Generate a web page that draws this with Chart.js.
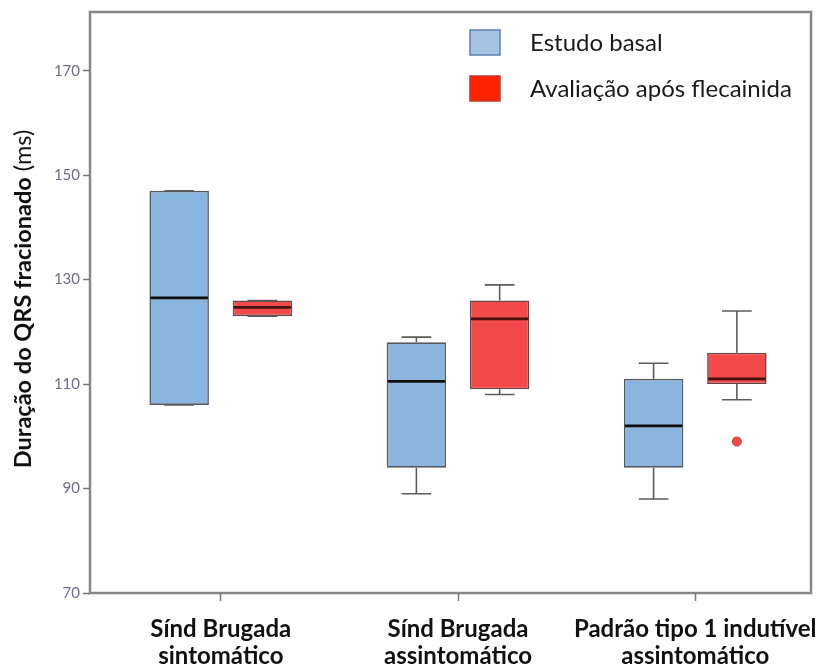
<!DOCTYPE html>
<html>
<head>
<meta charset="utf-8">
<script src="https://cdn.jsdelivr.net/npm/chart.js@4/dist/chart.umd.min.js"></script>
<style>
  html, body { margin: 0; padding: 0; background: #fff; }
  #wrap { width: 822px; height: 671px; }
</style>
</head>
<body>
<div id="wrap"><canvas id="c" width="822" height="671"></canvas></div>
<script>
// Groups along the x axis (two-line labels)
const groups = [
  ['Sínd Brugada', 'sintomático'],
  ['Sínd Brugada', 'assintomático'],
  ['Padrão tipo 1 indutível', 'assintomático']
];
const seriesNames = ['Estudo basal', 'Avaliação após flecainida'];

// Five-number summaries, one value per group (ms)
const basalMin    = [106, 89, 88];
const basalQ1     = [106, 94, 94];
const basalMedian = [126.5, 110.5, 102];
const basalQ3     = [147, 118, 111];
const basalMax    = [147, 119, 114];

const flecMin    = [123, 108, 107];
const flecQ1     = [123, 109, 110];
const flecMedian = [124.7, 122.5, 111];
const flecQ3     = [126, 126, 116];
const flecMax    = [126, 129, 124];
const flecOutliers = [[], [], [99]];

const yTicks = [70, 90, 110, 130, 150, 170];

Chart.defaults.font.family = 'Lato, "Open Sans", sans-serif';

function boxData(q1, q3) {
  return groups.map((g, i) => ({ x: i, y: [q1[i], q3[i]] }));
}

// Whiskers, medians and outliers on top of the floating-bar boxes
const boxPlotPlugin = {
  id: 'boxPlot',
  afterDatasetsDraw(chart) {
    const ctx = chart.ctx;
    const yScale = chart.scales.y;
    chart.data.datasets.forEach((ds, di) => {
      const meta = chart.getDatasetMeta(di);
      const s = ds.stats;
      meta.data.forEach((bar, i) => {
        const x = bar.x, w = bar.width;
        const left = x - w / 2, right = x + w / 2;
        const yMax = yScale.getPixelForValue(s.max[i]);
        const yQ3 = yScale.getPixelForValue(s.q3[i]);
        const yQ1 = yScale.getPixelForValue(s.q1[i]);
        const yMin = yScale.getPixelForValue(s.min[i]);
        const yMed = yScale.getPixelForValue(s.median[i]);
        ctx.save();
        ctx.strokeStyle = '#5c5c5c';
        ctx.lineWidth = 1.6;
        ctx.beginPath();
        // upper whisker
        ctx.moveTo(x, yQ3); ctx.lineTo(x, yMax);
        ctx.moveTo(x - w / 4, yMax); ctx.lineTo(x + w / 4, yMax);
        // lower whisker
        ctx.moveTo(x, yQ1); ctx.lineTo(x, yMin);
        ctx.moveTo(x - w / 4, yMin); ctx.lineTo(x + w / 4, yMin);
        ctx.stroke();
        // median
        ctx.strokeStyle = ds.medianColor;
        ctx.lineWidth = 2.8;
        ctx.beginPath();
        ctx.moveTo(left + 1, yMed); ctx.lineTo(right - 1, yMed);
        ctx.stroke();
        // outliers
        (s.outliers[i] || []).forEach(v => {
          const py = yScale.getPixelForValue(v);
          ctx.beginPath();
          ctx.arc(x, py, 4.5, 0, Math.PI * 2);
          ctx.fillStyle = ds.backgroundColor;
          ctx.fill();
          ctx.strokeStyle = '#b83a3a';
          ctx.lineWidth = 1;
          ctx.stroke();
        });
        ctx.restore();
      });
    });
  }
};

// Plot frame, legend entries and the mixed-weight y-axis title
const decorPlugin = {
  id: 'decor',
  beforeDatasetsDraw(chart) {
    const { ctx, chartArea: a } = chart;
    ctx.save();
    ctx.strokeStyle = 'rgba(0,0,0,0.12)';
    ctx.lineWidth = 4;
    ctx.strokeRect(a.left, a.top, a.right - a.left, a.bottom - a.top);
    ctx.strokeStyle = '#868686';
    ctx.lineWidth = 2;
    ctx.strokeRect(a.left, a.top, a.right - a.left, a.bottom - a.top);
    ctx.restore();
  },
  afterDraw(chart) {
    const ctx = chart.ctx;
    ctx.save();
    // legend
    const legendFill = ['#a6c3e4', '#ff2400'];
    const legendEdge = ['#5b82b0', '#c0392b'];
    const rows = [30, 76];
    seriesNames.forEach((name, i) => {
      ctx.fillStyle = legendFill[i];
      ctx.fillRect(470, rows[i], 30, 25);
      ctx.strokeStyle = legendEdge[i];
      ctx.lineWidth = 1.5;
      ctx.strokeRect(470, rows[i], 30, 25);
      ctx.fillStyle = '#1a1a1a';
      ctx.font = '24px Lato, sans-serif';
      ctx.textBaseline = 'middle';
      ctx.textAlign = 'left';
      ctx.fillText(name, 530, rows[i] + 13);
    });
    // y-axis title
    const boldPart = 'Duração do QRS fracionado';
    const plainPart = ' (ms)';
    ctx.translate(23, 299);
    ctx.rotate(-Math.PI / 2);
    ctx.textBaseline = 'middle';
    ctx.textAlign = 'left';
    ctx.font = 'bold 23.5px Lato, sans-serif';
    const wb = ctx.measureText(boldPart).width;
    ctx.font = '23.5px Lato, sans-serif';
    const wp = ctx.measureText(plainPart).width;
    const start = -(wb + wp) / 2;
    ctx.fillStyle = '#111';
    ctx.font = 'bold 23.5px Lato, sans-serif';
    ctx.fillText(boldPart, start, 0);
    ctx.font = '23.5px Lato, sans-serif';
    ctx.fillText(plainPart, start + wb, 0);
    ctx.restore();
  }
};

new Chart(document.getElementById('c'), {
  type: 'bar',
  data: {
    datasets: [
      {
        label: seriesNames[0],
        data: boxData(basalQ1, basalQ3),
        backgroundColor: '#8ab5de',
        borderColor: '#55595f',
        borderWidth: 1.6,
        borderSkipped: false,
        medianColor: '#101010',
        stats: { min: basalMin, q1: basalQ1, median: basalMedian, q3: basalQ3, max: basalMax, outliers: [[], [], []] }
      },
      {
        label: seriesNames[1],
        data: boxData(flecQ1, flecQ3),
        backgroundColor: '#f24a4a',
        borderColor: '#6a4646',
        borderWidth: 1.6,
        borderSkipped: false,
        medianColor: '#4a1010',
        stats: { min: flecMin, q1: flecQ1, median: flecMedian, q3: flecQ3, max: flecMax, outliers: flecOutliers }
      }
    ]
  },
  options: {
    responsive: false,
    animation: false,
    categoryPercentage: 0.702,
    barPercentage: 0.714,
    layout: { padding: { left: 0, right: 11, top: 9, bottom: 0 } },
    plugins: { legend: { display: false }, tooltip: { enabled: false } },
    scales: {
      x: {
        type: 'linear',
        offset: false,
        min: -0.5514,
        max: 2.488,
        afterBuildTicks: axis => { axis.ticks = groups.map((g, i) => ({ value: i })); },
        afterFit: axis => { axis.height = 78; axis.paddingLeft = 0; axis.paddingRight = 0; },
        grid: { display: true, offset: false, drawOnChartArea: false, drawTicks: true, tickLength: 8, tickColor: '#777', tickWidth: 1.5 },
        border: { display: false },
        ticks: {
          maxRotation: 0,
          autoSkip: false,
          padding: 14,
          color: '#111',
          font: { size: 24, weight: 'bold', lineHeight: 1.15 },
          callback: v => groups[v] || ''
        }
      },
      y: {
        min: 70,
        max: 181.24,
        afterBuildTicks: axis => { axis.ticks = yTicks.map(v => ({ value: v })); },
        afterFit: axis => { axis.width = 90; },
        grid: { display: true, drawOnChartArea: false, drawTicks: true, tickLength: 7, tickColor: '#777', tickWidth: 1.5 },
        border: { display: false },
        ticks: { color: '#6c6c8e', padding: 3, font: { size: 15 } }
      }
    }
  },
  plugins: [decorPlugin, boxPlotPlugin]
});
</script>
</body>
</html>
